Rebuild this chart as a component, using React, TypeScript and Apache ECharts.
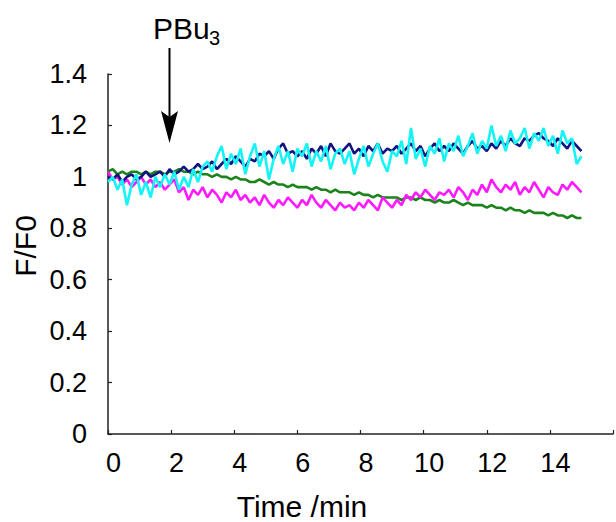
import React, { useEffect, useRef } from "react";
import * as echarts from "echarts";

// sampling step of the recordings (min)
const STEP = 0.15;

const xTicks = [0, 2, 4, 6, 8, 10, 12, 14];

const navy = [
  1.0, 0.99, 1.01, 0.98, 1.0, 1.01, 0.99, 1.0, 1.02, 1.0, 1.01,
  1.02, 1.0, 1.03, 1.01, 1.02, 1.04, 1.02, 1.03, 1.05, 1.03,
  1.04, 1.06, 1.03, 1.05, 1.07, 1.05, 1.08, 1.06, 1.04, 1.07,
  1.06, 1.09, 1.08, 1.1, 1.07, 1.11, 1.13, 1.09, 1.1, 1.08,
  1.1, 1.07, 1.11, 1.09, 1.12, 1.08, 1.13, 1.1, 1.09, 1.11,
  1.13, 1.09, 1.11, 1.08, 1.12, 1.1, 1.13, 1.09, 1.11, 1.1,
  1.12, 1.09, 1.11, 1.13, 1.1, 1.12, 1.08, 1.11, 1.13, 1.1,
  1.12, 1.1, 1.13, 1.11, 1.09, 1.12, 1.14, 1.11, 1.12, 1.1,
  1.13, 1.11, 1.14, 1.12, 1.15, 1.13, 1.12, 1.15, 1.14, 1.16,
  1.17, 1.15, 1.14, 1.12, 1.15, 1.13, 1.11, 1.14, 1.12, 1.1,
];

const cyan = [
  0.98, 1.0, 0.95, 0.99, 0.89, 0.97, 1.01, 0.93, 0.98, 0.92, 1.0,
  0.96, 1.01, 0.97, 1.02, 0.95, 1.0, 0.96, 1.03, 0.98, 1.04,
  1.06, 1.02, 1.08, 1.12, 1.03, 1.09, 1.05, 1.11, 1.01, 1.08,
  1.13, 1.04, 1.1, 0.99, 1.07, 1.12, 1.05, 1.1, 1.02, 1.11,
  1.08, 1.13, 1.04, 1.1, 1.06, 1.12, 1.03, 1.09, 1.11, 1.05,
  1.1, 1.01, 1.07, 1.12, 1.04, 1.09, 1.13, 1.06, 1.02, 1.1,
  1.08, 1.14, 1.05, 1.19, 1.07, 1.11, 1.04, 1.12, 1.09, 1.15,
  1.06, 1.13, 1.1, 1.16, 1.08, 1.12, 1.17, 1.09, 1.14, 1.11,
  1.2, 1.12, 1.16, 1.1, 1.18, 1.13, 1.15, 1.19, 1.11, 1.17,
  1.14, 1.19, 1.12, 1.16, 1.09, 1.18, 1.13, 1.15, 1.05, 1.08,
];

const magenta = [
  1.02, 0.99, 1.0, 0.97, 0.99, 0.96, 0.98, 1.0, 0.97, 0.99, 0.96,
  0.98, 0.95, 0.97, 0.99, 0.94, 0.96, 0.91, 0.95, 0.93, 0.96,
  0.92, 0.95, 0.93, 0.9, 0.94, 0.92, 0.95, 0.91, 0.93, 0.9,
  0.92, 0.89, 0.93, 0.9, 0.88, 0.91, 0.89, 0.92, 0.9, 0.88,
  0.91, 0.89, 0.93, 0.9, 0.88, 0.91, 0.89, 0.87, 0.9, 0.88,
  0.89, 0.87, 0.9, 0.88, 0.91, 0.89, 0.87, 0.92, 0.9, 0.88,
  0.91, 0.89, 0.93, 0.91, 0.94, 0.92, 0.95, 0.93, 0.91, 0.94,
  0.93, 0.95, 0.92, 0.96, 0.94, 0.91, 0.95, 0.93, 0.97, 0.94,
  0.99, 0.96, 0.94, 0.97, 0.95, 0.98, 0.93, 0.96, 0.94, 0.98,
  0.95, 0.92, 0.96, 0.94, 0.93, 0.97, 0.95, 0.98, 0.96, 0.94,
];

const green = [
  1.02, 1.03, 1.01, 1.02, 1.01, 1.02, 1.02, 1.01, 1.02, 1.01, 1.02,
  1.02, 1.01, 1.02, 1.02, 1.03, 1.02, 1.02, 1.01, 1.02, 1.01,
  1.01, 1.0, 1.01, 1.0, 1.0, 0.99, 1.0, 0.99, 0.99, 0.98,
  0.98, 0.99, 0.98, 0.97, 0.98, 0.97, 0.97, 0.96, 0.97, 0.96,
  0.96, 0.96, 0.95, 0.96, 0.95, 0.95, 0.94, 0.95, 0.94, 0.94,
  0.94, 0.93, 0.94, 0.93, 0.93, 0.92, 0.93, 0.92, 0.92, 0.92,
  0.92, 0.91, 0.92, 0.92, 0.91, 0.92, 0.91, 0.91, 0.9, 0.91,
  0.9, 0.9, 0.91, 0.9, 0.89, 0.9, 0.89, 0.89, 0.89, 0.88,
  0.89, 0.88, 0.88, 0.87, 0.88, 0.87, 0.87, 0.86, 0.87, 0.86,
  0.86, 0.86, 0.85, 0.86, 0.85, 0.85, 0.84, 0.85, 0.84, 0.84,
];

const FONT = "'Liberation Sans', Arial, sans-serif";

const toPairs = (vals: number[]) =>
  vals.map((v, i) => [Math.round(i * STEP * 100) / 100, v]);

export default function App() {
  const ref = useRef<HTMLDivElement>(null);
  useEffect(() => {
    if (!ref.current) return;
    const chart = echarts.init(ref.current, undefined, { renderer: "svg" });
    const line = (name: string, vals: number[], color: string) => ({
      name,
      type: "line",
      data: toPairs(vals),
      showSymbol: false,
      symbol: "none",
      lineStyle: { color, width: 2.6 },
      itemStyle: { color },
    });
    chart.setOption({
      animation: false,
      backgroundColor: "#fff",
      grid: { left: 108, right: 1, top: 74, bottom: 88, containLabel: false },
      xAxis: {
        type: "value",
        min: 0,
        max: 16,
        interval: 2,
        splitLine: { show: false },
        axisLine: { show: true, lineStyle: { color: "#222", width: 1.5 } },
        axisTick: { show: true, inside: true, length: 4, lineStyle: { color: "#222", width: 1.2 } },
        axisLabel: {
          color: "#000",
          fontSize: 27,
          fontFamily: FONT,
          margin: 15,
          padding: [0, 0, 0, 11],
          formatter: (v: number) => (xTicks.includes(v) ? String(v) : ""),
        },
      },
      yAxis: {
        type: "value",
        min: 0,
        max: 1.4,
        interval: 0.2,
        splitLine: { show: false },
        axisLine: { show: true, lineStyle: { color: "#222", width: 1.5 } },
        axisTick: { show: true, inside: true, length: 4, lineStyle: { color: "#222", width: 1.2 } },
        axisLabel: {
          color: "#000",
          fontSize: 27,
          fontFamily: FONT,
          margin: 21,
          formatter: (v: number) => String(Math.round(v * 10) / 10),
        },
      },
      series: [
        line("green", green, "#1a841a"),
        line("magenta", magenta, "#ff1aff"),
        line("navy", navy, "#141480"),
        line("cyan", cyan, "#14f4f4"),
      ],
      graphic: [
        {
          type: "text",
          x: 25,
          y: 246,
          rotation: Math.PI / 2,
          style: {
            text: "F/F0",
            font: `30px ${FONT}`,
            fill: "#000",
            textAlign: "center",
            textVerticalAlign: "middle",
          },
        },
        {
          type: "text",
          x: 302,
          y: 506,
          style: {
            text: "Time /min",
            font: `30px ${FONT}`,
            fill: "#000",
            textAlign: "center",
            textVerticalAlign: "middle",
          },
        },
        {
          type: "text",
          x: 153,
          y: 28,
          style: {
            text: "PBu",
            font: `30px ${FONT}`,
            fill: "#000",
            textAlign: "left",
            textVerticalAlign: "middle",
          },
        },
        {
          type: "text",
          x: 209,
          y: 38,
          style: {
            text: "3",
            font: `20px ${FONT}`,
            fill: "#000",
            textAlign: "left",
            textVerticalAlign: "middle",
          },
        },
        {
          type: "line",
          shape: { x1: 169.5, y1: 48, x2: 169.5, y2: 118 },
          style: { stroke: "#000", lineWidth: 2 },
        },
        {
          type: "polygon",
          shape: {
            points: [
              [161, 111],
              [169.5, 117],
              [178, 111],
              [169.5, 143],
            ],
          },
          style: { fill: "#000" },
        },
      ],
    });
    return () => chart.dispose();
  }, []);
  return (
    <div
      ref={ref}
      style={{ position: "fixed", left: 0, top: 0, width: 616, height: 522 }}
    />
  );
}
